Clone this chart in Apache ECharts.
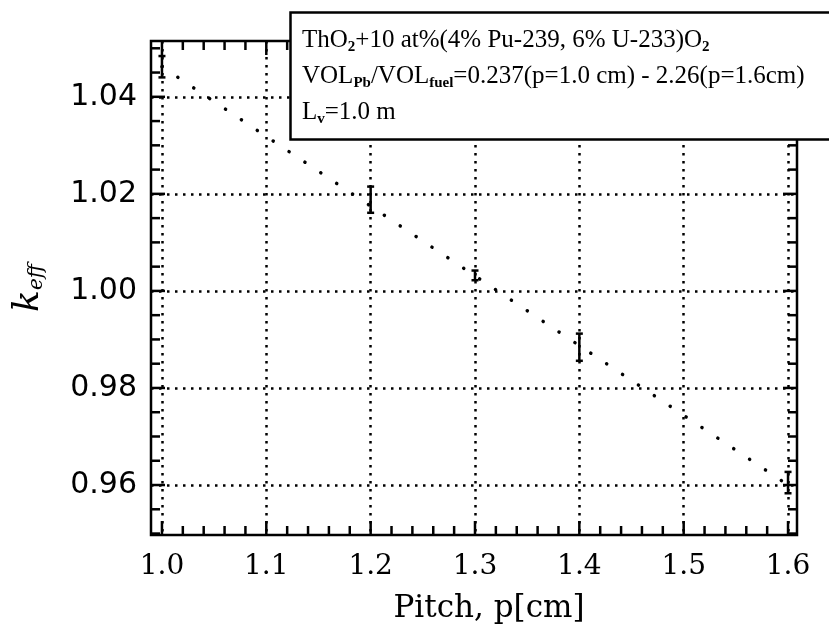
<!DOCTYPE html>
<html>
<head>
<meta charset="utf-8">
<script src="https://cdn.jsdelivr.net/npm/echarts@6/dist/echarts.min.js"></script>
<style>
  html, body { margin: 0; padding: 0; background: #fff; }
  #chart { width: 829px; height: 633px; }
</style>
</head>
<body>
<div id="chart"></div>
<script>
// measured points (k_eff with error bars)
const pitch = [1.0, 1.2, 1.3, 1.4, 1.6];
const keff = [1.0462, 1.0188, 1.0032, 0.9884, 0.9605];
const keffErr = [0.0022, 0.0027, 0.0010, 0.0028, 0.0022];

// dotted trend line, read at its two ends
const fitPitch = [1.0, 1.6];
const fitKeff = [1.0462, 0.9600];

// tick labels
const xTicks = [1.0, 1.1, 1.2, 1.3, 1.4, 1.5, 1.6];
const yTicks = [0.96, 0.98, 1.00, 1.02, 1.04];

const XMIN = 0.9895, XMAX = 1.6086;
const YMIN = 0.9497, YMAX = 1.0515;

function steps(from, to, step) {
  const out = [];
  for (let v = from; v <= to + 1e-9; v += step) out.push(+v.toFixed(4));
  return out;
}
const xMinor = steps(1.0, 1.6, 0.02);
const yMinor = steps(0.95, 1.05, 0.005);
const isMajor = (list, v) => list.some(t => Math.abs(t - v) < 1e-6);

const gridDots = { color: '#000', width: 2.5, type: [2.5, 5.5] };
const tickStyle = { stroke: '#000', lineWidth: 2.5 };

// inward ticks on all four sides of the frame, placed through the axis scales
function renderTicks(params, api) {
  const cs = params.coordSys;
  const p = api.coord([api.value(0), api.value(1)]);
  const len = api.value(2);
  const onX = api.value(3) === 0;
  const lines = onX
    ? [[p[0], cs.y + cs.height, p[0], cs.y + cs.height - len], [p[0], cs.y, p[0], cs.y + len]]
    : [[cs.x, p[1], cs.x + len, p[1]], [cs.x + cs.width, p[1], cs.x + cs.width - len, p[1]]];
  return {
    type: 'group',
    children: lines.map(l => ({
      type: 'line', shape: { x1: l[0], y1: l[1], x2: l[2], y2: l[3] }, style: tickStyle
    }))
  };
}

const chart = echarts.init(document.getElementById('chart'));

chart.setOption({
  animation: false,
  backgroundColor: '#fff',
  title: {
    left: 290,
    top: 12,
    padding: [10, 80, 10, 12],
    borderColor: '#000',
    borderWidth: 2.5,
    backgroundColor: '#fff',
    text: 'ThO{s|2}+10 at%(4% Pu-239, 6% U-233)O{s|2}\n' +
          'VOL{s|Pb}/VOL{s|fuel}=0.237(p=1.0 cm) - 2.26(p=1.6cm)\n' +
          'L{s|v}=1.0 m',
    textStyle: {
      fontFamily: 'Liberation Serif',
      fontSize: 25,
      fontWeight: 'normal',
      color: '#000',
      lineHeight: 36,
      rich: {
        s: { fontFamily: 'Liberation Serif', fontSize: 15, fontWeight: 'bold',
             color: '#000', padding: [14, 0, 0, 0] }
      }
    },
    z: 10
  },
  grid: {
    left: 151, right: 32, top: 41, bottom: 98,
    show: true, borderColor: '#000', borderWidth: 2.5
  },
  xAxis: {
    type: 'value',
    min: XMIN,
    max: XMAX,
    axisLine: { show: false, onZero: false },
    axisTick: { show: false, customValues: xTicks },
    axisLabel: { customValues: xTicks, margin: 18,
                 formatter: v => v.toFixed(1),
                 fontFamily: 'DejaVu Serif', fontSize: 28, color: '#000' },
    splitLine: { show: true, lineStyle: gridDots },
    name: 'Pitch, p[cm]',
    nameLocation: 'middle',
    nameGap: 58,
    nameTextStyle: { fontFamily: 'DejaVu Serif', fontSize: 31, color: '#000',
                     padding: [0, 0, 0, 30] }
  },
  yAxis: {
    type: 'value',
    min: YMIN,
    max: YMAX,
    axisLine: { show: false, onZero: false },
    axisTick: { show: false, customValues: yTicks },
    axisLabel: { customValues: yTicks, margin: 14,
                 formatter: v => v.toFixed(2),
                 fontFamily: 'DejaVu Sans', fontSize: 30, color: '#000' },
    splitLine: { show: true, lineStyle: gridDots },
    name: '{k|k}{e|eff}',
    nameLocation: 'middle',
    nameRotate: 90,
    nameGap: 104,
    nameTextStyle: {
      rich: {
        k: { fontFamily: 'DejaVu Serif', fontStyle: 'italic', fontSize: 36, color: '#000' },
        e: { fontFamily: 'DejaVu Serif', fontStyle: 'italic', fontSize: 20, color: '#000',
             padding: [16, 0, 0, 0] }
      }
    }
  },
  series: [
    {
      type: 'custom',
      silent: true,
      clip: false,
      data: xMinor.map(v => [v, YMIN, isMajor(xTicks, v) ? 14 : 9, 0])
        .concat(yMinor.map(v => [XMIN, v, isMajor(yTicks, v) ? 14 : 9, 1])),
      renderItem: renderTicks,
      z: 5
    },
    {
      type: 'line',
      data: fitPitch.map((p, i) => [p, fitKeff[i]]),
      showSymbol: false,
      silent: true,
      lineStyle: { color: '#000', width: 3.5, type: [0.1, 19], cap: 'round' },
      z: 3
    },
    {
      type: 'custom',
      data: pitch.map((p, i) => [p, keff[i], keffErr[i]]),
      renderItem: function (params, api) {
        const x = api.value(0), y = api.value(1), e = api.value(2);
        const hi = api.coord([x, y + e]);
        const lo = api.coord([x, y - e]);
        const cw = 3.5;
        const style = { stroke: '#000', lineWidth: 2.5 };
        return {
          type: 'group',
          children: [
            { type: 'line', shape: { x1: hi[0], y1: hi[1], x2: lo[0], y2: lo[1] }, style: style },
            { type: 'line', shape: { x1: hi[0] - cw, y1: hi[1], x2: hi[0] + cw, y2: hi[1] }, style: style },
            { type: 'line', shape: { x1: lo[0] - cw, y1: lo[1], x2: lo[0] + cw, y2: lo[1] }, style: style }
          ]
        };
      },
      z: 4
    }
  ]
});
</script>
</body>
</html>
